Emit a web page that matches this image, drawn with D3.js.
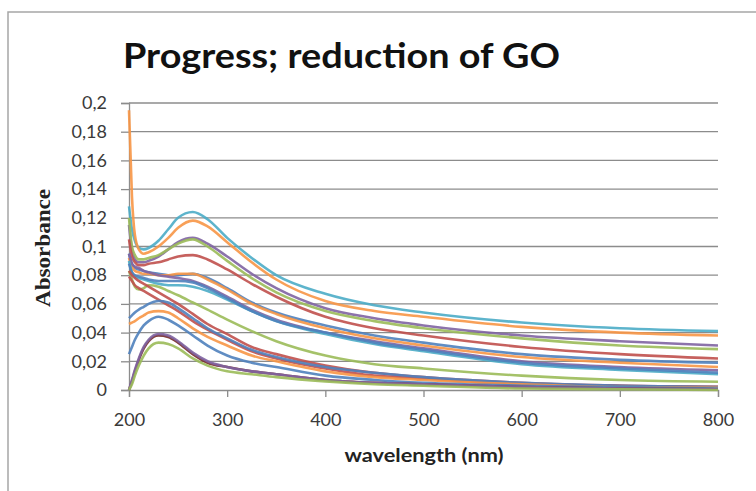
<!DOCTYPE html>
<html>
<head>
<meta charset="utf-8">
<script src="https://cdn.jsdelivr.net/npm/d3@7"></script>
<style>
  body { margin: 0; background: #fff; }
  svg { display: block; }
</style>
</head>
<body>
<div id="chart"></div>
<script>
// wavelengths (nm) where every spectrum is sampled
const wavelengths = [200, 203, 206, 210, 215, 220, 230, 240, 250, 265, 280, 300, 325, 350, 400, 450, 500, 600, 700, 800];

// absorbance of each spectrum
const s1  = [0.128,0.112,0.104,0.099,0.098,0.099,0.104,0.112,0.120,0.124,0.119,0.106,0.092,0.080,0.067,0.059,0.054,0.047,0.043,0.041];
const s2  = [0.195,0.135,0.108,0.098,0.095,0.096,0.100,0.106,0.113,0.118,0.114,0.103,0.089,0.077,0.062,0.055,0.051,0.044,0.040,0.038];
const s3  = [0.115,0.098,0.091,0.089,0.089,0.090,0.093,0.098,0.103,0.106,0.102,0.093,0.081,0.071,0.057,0.050,0.045,0.038,0.034,0.031];
const s4  = [0.120,0.100,0.094,0.091,0.091,0.092,0.094,0.098,0.102,0.105,0.100,0.090,0.078,0.068,0.055,0.048,0.043,0.036,0.031,0.0285];
const s5  = [0.105,0.093,0.089,0.087,0.087,0.088,0.089,0.091,0.093,0.094,0.091,0.084,0.074,0.065,0.051,0.043,0.038,0.030,0.025,0.022];
const s6  = [0.095,0.088,0.085,0.084,0.083,0.082,0.081,0.080,0.080,0.081,0.078,0.071,0.061,0.054,0.045,0.038,0.033,0.025,0.021,0.019];
const s7  = [0.092,0.086,0.083,0.082,0.081,0.081,0.080,0.080,0.081,0.081,0.077,0.070,0.060,0.053,0.043,0.036,0.031,0.023,0.019,0.016];
const s8  = [0.095,0.088,0.086,0.085,0.083,0.082,0.080,0.079,0.078,0.076,0.072,0.065,0.056,0.049,0.040,0.034,0.029,0.020,0.016,0.0137];
const s9  = [0.090,0.082,0.079,0.078,0.077,0.076,0.074,0.073,0.073,0.072,0.069,0.063,0.055,0.048,0.039,0.032,0.027,0.018,0.014,0.011];
const s10 = [0.088,0.082,0.080,0.079,0.078,0.077,0.076,0.076,0.076,0.075,0.071,0.064,0.055,0.048,0.040,0.033,0.028,0.019,0.015,0.012];
const s11 = [0.083,0.077,0.072,0.070,0.071,0.073,0.072,0.069,0.066,0.061,0.056,0.049,0.041,0.034,0.024,0.018,0.015,0.010,0.007,0.0058];
const s12 = [0.083,0.080,0.078,0.076,0.074,0.072,0.068,0.064,0.060,0.053,0.046,0.039,0.030,0.025,0.017,0.012,0.009,0.005,0.003,0.0023];
const s13 = [0.079,0.076,0.073,0.071,0.069,0.067,0.063,0.059,0.055,0.048,0.042,0.035,0.027,0.022,0.015,0.010,0.008,0.004,0.003,0.002];
const s14 = [0.050,0.052,0.054,0.056,0.058,0.060,0.062,0.061,0.057,0.050,0.043,0.036,0.028,0.023,0.016,0.012,0.009,0.005,0.003,0.002];
const s15 = [0.046,0.047,0.048,0.050,0.052,0.054,0.055,0.054,0.050,0.043,0.037,0.031,0.024,0.020,0.013,0.009,0.007,0.004,0.002,0.0015];
const s16 = [0.025,0.030,0.035,0.040,0.045,0.048,0.051,0.049,0.045,0.038,0.031,0.024,0.019,0.016,0.010,0.007,0.005,0.003,0.002,0.001];
const s17 = [0.000,0.006,0.013,0.021,0.029,0.034,0.038,0.037,0.033,0.025,0.019,0.016,0.013,0.011,0.007,0.005,0.004,0.002,0.001,0.0005];
const s18 = [0.000,0.007,0.014,0.022,0.030,0.035,0.039,0.038,0.034,0.026,0.020,0.016,0.013,0.011,0.007,0.005,0.004,0.002,0.001,0.0005];
const s19 = [0.000,0.004,0.010,0.017,0.024,0.029,0.033,0.032,0.029,0.022,0.017,0.013,0.011,0.009,0.006,0.004,0.003,0.001,0.0005,0.000];

const spectra = [s1, s2, s3, s4, s5, s6, s7, s8, s9, s10, s11, s12, s13, s14, s15, s16, s17, s18, s19];
const lineColors = ["#4BACC6", "#F79646", "#8064A2", "#9BBB59", "#C0504D", "#4F81BD", "#F79646", "#8064A2",
                    "#4BACC6", "#4F81BD", "#9BBB59", "#C0504D", "#C0504D", "#4F81BD", "#F79646", "#4F81BD",
                    "#772C2A", "#8064A2", "#9BBB59"];

const yTicks = [0, 0.02, 0.04, 0.06, 0.08, 0.1, 0.12, 0.14, 0.16, 0.18, 0.2];
const xTicks = [200, 300, 400, 500, 600, 700, 800];

const width = 756, height = 491;
const plotLeft = 129, plotRight = 718, plotTop = 103, plotBottom = 390;

const svg = d3.select("#chart").append("svg")
    .attr("width", width)
    .attr("height", height);

// chart frame
svg.append("rect")
    .attr("x", 8).attr("y", 12)
    .attr("width", 760).attr("height", 500)
    .attr("fill", "none")
    .attr("stroke", "#a6a6a6")
    .attr("stroke-width", 1.5);

const x = d3.scaleLinear().domain([200, 800]).range([plotLeft, plotRight]);
const y = d3.scaleLinear().domain([0, 0.2]).range([plotBottom, plotTop]);

const fmt = d => String(d).replace(".", ",");

// gridlines
svg.append("g")
    .selectAll("line")
    .data(yTicks.slice(1)).enter()
    .append("line")
    .attr("x1", plotLeft).attr("x2", plotRight)
    .attr("y1", d => y(d)).attr("y2", d => y(d))
    .attr("stroke", "#8c8c8c")
    .attr("stroke-width", 1.3);

// y axis
const yAxis = svg.append("g")
    .attr("transform", "translate(" + plotLeft + ",0)")
    .call(d3.axisLeft(y).tickValues(yTicks).tickFormat(fmt).tickSize(8).tickPadding(14));

// x axis
const xAxis = svg.append("g")
    .attr("transform", "translate(0," + plotBottom + ")")
    .call(d3.axisBottom(x).tickValues(xTicks).tickSize(7).tickPadding(16));

[yAxis, xAxis].forEach(g => {
    g.select(".domain").attr("stroke", "#8c8c8c").attr("stroke-width", 1.3);
    g.selectAll(".tick line").attr("stroke", "#8c8c8c").attr("stroke-width", 1.3);
    g.selectAll("text")
        .attr("fill", "#3a3a3a")
        .style("font-family", "Lato, 'Open Sans', sans-serif")
        .style("font-size", "18px");
});

// spectra
const line = d3.line()
    .x((d, i) => x(wavelengths[i]))
    .y(d => y(d))
    .curve(d3.curveMonotoneX);

svg.append("g")
    .selectAll("path")
    .data(spectra).enter()
    .append("path")
    .attr("d", line)
    .attr("fill", "none")
    .attr("stroke", (d, i) => lineColors[i])
    .attr("stroke-width", 2.6)
    .attr("stroke-opacity", 0.9);

// title
svg.append("text")
    .attr("x", 123).attr("y", 68)
    .attr("textLength", 437)
    .attr("lengthAdjust", "spacingAndGlyphs")
    .style("font-family", "Lato, 'Open Sans', sans-serif")
    .style("font-weight", "bold")
    .style("font-size", "34px")
    .attr("fill", "#111")
    .text("Progress; reduction of GO");

// axis titles
svg.append("text")
    .attr("x", 424).attr("y", 462)
    .attr("text-anchor", "middle")
    .attr("textLength", 159)
    .attr("lengthAdjust", "spacingAndGlyphs")
    .style("font-family", "Lato, 'Open Sans', sans-serif")
    .style("font-weight", "bold")
    .style("font-size", "19px")
    .attr("fill", "#222")
    .text("wavelength (nm)");

svg.append("text")
    .attr("transform", "translate(50,248) rotate(-90)")
    .attr("text-anchor", "middle")
    .attr("textLength", 118)
    .attr("lengthAdjust", "spacingAndGlyphs")
    .style("font-family", "'Liberation Serif', 'DejaVu Serif', serif")
    .style("font-weight", "bold")
    .style("font-size", "22px")
    .attr("fill", "#222")
    .text("Absorbance");
</script>
</body>
</html>
